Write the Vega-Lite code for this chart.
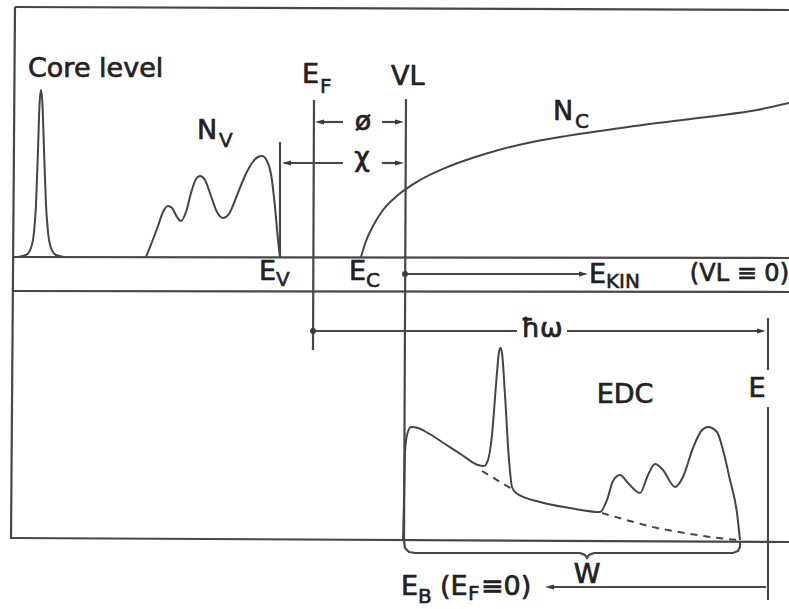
{
  "$schema": "https://vega.github.io/schema/vega-lite/v6.json",
  "width": 789,
  "height": 609,
  "padding": 0,
  "autosize": {"type": "none"},
  "background": "white",
  "config": {"view": {"stroke": null}},
  "datasets": {
    "straight": [
      {"s": "top", "i": 0, "x": 15, "y": 7}, {"s": "top", "i": 1, "x": 789, "y": 10},
      {"s": "left", "i": 0, "x": 15, "y": 7}, {"s": "left", "i": 1, "x": 11, "y": 539},
      {"s": "base1", "i": 0, "x": 14, "y": 257}, {"s": "base1", "i": 1, "x": 789, "y": 258},
      {"s": "base2", "i": 0, "x": 13, "y": 291}, {"s": "base2", "i": 1, "x": 789, "y": 292},
      {"s": "bottom", "i": 0, "x": 11, "y": 538}, {"s": "bottom", "i": 1, "x": 789, "y": 542},
      {"s": "ef", "i": 0, "x": 314, "y": 100}, {"s": "ef", "i": 1, "x": 313, "y": 350},
      {"s": "vl", "i": 0, "x": 406, "y": 99}, {"s": "vl", "i": 1, "x": 404, "y": 541},
      {"s": "ev", "i": 0, "x": 280, "y": 142}, {"s": "ev", "i": 1, "x": 280, "y": 257},
      {"s": "ekin", "i": 0, "x": 405, "y": 274}, {"s": "ekin", "i": 1, "x": 583, "y": 274},
      {"s": "phil", "i": 0, "x": 318, "y": 122}, {"s": "phil", "i": 1, "x": 343, "y": 122},
      {"s": "phir", "i": 0, "x": 382, "y": 122}, {"s": "phir", "i": 1, "x": 400, "y": 122},
      {"s": "chil", "i": 0, "x": 284, "y": 163}, {"s": "chil", "i": 1, "x": 343, "y": 163},
      {"s": "chir", "i": 0, "x": 382, "y": 163}, {"s": "chir", "i": 1, "x": 400, "y": 163},
      {"s": "hwl", "i": 0, "x": 313, "y": 331}, {"s": "hwl", "i": 1, "x": 517, "y": 331},
      {"s": "hwr", "i": 0, "x": 567, "y": 331}, {"s": "hwr", "i": 1, "x": 760, "y": 331},
      {"s": "etop", "i": 0, "x": 768, "y": 318}, {"s": "etop", "i": 1, "x": 768, "y": 370},
      {"s": "ebot", "i": 0, "x": 768, "y": 407}, {"s": "ebot", "i": 1, "x": 768, "y": 600},
      {"s": "eb", "i": 0, "x": 550, "y": 587}, {"s": "eb", "i": 1, "x": 766, "y": 587},
      {"s": "brace", "i": 0, "x": 404, "y": 541}, {"s": "brace", "i": 1, "x": 405, "y": 548},
      {"s": "brace", "i": 2, "x": 409, "y": 552}, {"s": "brace", "i": 3, "x": 415, "y": 553},
      {"s": "brace", "i": 4, "x": 580, "y": 553}, {"s": "brace", "i": 5, "x": 585, "y": 555},
      {"s": "brace", "i": 6, "x": 587, "y": 558}, {"s": "brace", "i": 7, "x": 589, "y": 555},
      {"s": "brace", "i": 8, "x": 594, "y": 553}, {"s": "brace", "i": 9, "x": 733, "y": 553},
      {"s": "brace", "i": 10, "x": 738, "y": 551}, {"s": "brace", "i": 11, "x": 740, "y": 547},
      {"s": "brace", "i": 12, "x": 740, "y": 541}
    ],
    "curves": [
      {"s": "core", "i": 0, "x": 18, "y": 257}, {"s": "core", "i": 1, "x": 26, "y": 255},
      {"s": "core", "i": 2, "x": 31, "y": 248}, {"s": "core", "i": 3, "x": 34, "y": 232},
      {"s": "core", "i": 4, "x": 36, "y": 205}, {"s": "core", "i": 5, "x": 38, "y": 150},
      {"s": "core", "i": 6, "x": 39.5, "y": 105}, {"s": "core", "i": 7, "x": 41, "y": 90},
      {"s": "core", "i": 8, "x": 42.5, "y": 105}, {"s": "core", "i": 9, "x": 44, "y": 150},
      {"s": "core", "i": 10, "x": 46, "y": 205}, {"s": "core", "i": 11, "x": 48, "y": 232},
      {"s": "core", "i": 12, "x": 51, "y": 248}, {"s": "core", "i": 13, "x": 56, "y": 255},
      {"s": "core", "i": 14, "x": 64, "y": 257},
      {"s": "nv", "i": 0, "x": 146, "y": 257}, {"s": "nv", "i": 1, "x": 152, "y": 242},
      {"s": "nv", "i": 2, "x": 158, "y": 226}, {"s": "nv", "i": 3, "x": 163, "y": 212},
      {"s": "nv", "i": 4, "x": 168, "y": 206}, {"s": "nv", "i": 5, "x": 172, "y": 208},
      {"s": "nv", "i": 6, "x": 177, "y": 217}, {"s": "nv", "i": 7, "x": 181, "y": 221},
      {"s": "nv", "i": 8, "x": 186, "y": 212}, {"s": "nv", "i": 9, "x": 191, "y": 193},
      {"s": "nv", "i": 10, "x": 196, "y": 179}, {"s": "nv", "i": 11, "x": 200, "y": 176},
      {"s": "nv", "i": 12, "x": 205, "y": 180}, {"s": "nv", "i": 13, "x": 211, "y": 196},
      {"s": "nv", "i": 14, "x": 217, "y": 212}, {"s": "nv", "i": 15, "x": 223, "y": 218},
      {"s": "nv", "i": 16, "x": 229, "y": 214}, {"s": "nv", "i": 17, "x": 236, "y": 198},
      {"s": "nv", "i": 18, "x": 244, "y": 178}, {"s": "nv", "i": 19, "x": 252, "y": 163},
      {"s": "nv", "i": 20, "x": 258, "y": 157}, {"s": "nv", "i": 21, "x": 262, "y": 156},
      {"s": "nv", "i": 22, "x": 267, "y": 161}, {"s": "nv", "i": 23, "x": 271, "y": 174},
      {"s": "nv", "i": 24, "x": 275, "y": 207}, {"s": "nv", "i": 25, "x": 278, "y": 240},
      {"s": "nv", "i": 26, "x": 280, "y": 257},
      {"s": "nc", "i": 0, "x": 361, "y": 257}, {"s": "nc", "i": 1, "x": 366, "y": 241},
      {"s": "nc", "i": 2, "x": 373, "y": 226}, {"s": "nc", "i": 3, "x": 383, "y": 210},
      {"s": "nc", "i": 4, "x": 398, "y": 195}, {"s": "nc", "i": 5, "x": 420, "y": 180},
      {"s": "nc", "i": 6, "x": 450, "y": 166}, {"s": "nc", "i": 7, "x": 485, "y": 154},
      {"s": "nc", "i": 8, "x": 523, "y": 144}, {"s": "nc", "i": 9, "x": 560, "y": 137},
      {"s": "nc", "i": 10, "x": 600, "y": 131}, {"s": "nc", "i": 11, "x": 657, "y": 123},
      {"s": "nc", "i": 12, "x": 715, "y": 116}, {"s": "nc", "i": 13, "x": 757, "y": 110},
      {"s": "nc", "i": 14, "x": 789, "y": 103},
      {"s": "edc", "i": 0, "x": 403, "y": 541}, {"s": "edc", "i": 1, "x": 404, "y": 500},
      {"s": "edc", "i": 2, "x": 405, "y": 452}, {"s": "edc", "i": 3, "x": 407, "y": 435},
      {"s": "edc", "i": 4, "x": 411, "y": 427}, {"s": "edc", "i": 5, "x": 418, "y": 428},
      {"s": "edc", "i": 6, "x": 428, "y": 433}, {"s": "edc", "i": 7, "x": 445, "y": 444},
      {"s": "edc", "i": 8, "x": 462, "y": 455}, {"s": "edc", "i": 9, "x": 478, "y": 465},
      {"s": "edc", "i": 10, "x": 484, "y": 466}, {"s": "edc", "i": 11, "x": 488, "y": 460},
      {"s": "edc", "i": 12, "x": 492, "y": 435}, {"s": "edc", "i": 13, "x": 496, "y": 385},
      {"s": "edc", "i": 14, "x": 499, "y": 352}, {"s": "edc", "i": 15, "x": 500.5, "y": 348},
      {"s": "edc", "i": 16, "x": 502, "y": 353}, {"s": "edc", "i": 17, "x": 505, "y": 395},
      {"s": "edc", "i": 18, "x": 509, "y": 460}, {"s": "edc", "i": 19, "x": 512, "y": 487},
      {"s": "edc", "i": 20, "x": 516, "y": 493}, {"s": "edc", "i": 21, "x": 540, "y": 502},
      {"s": "edc", "i": 22, "x": 570, "y": 508}, {"s": "edc", "i": 23, "x": 600, "y": 512},
      {"s": "edc", "i": 24, "x": 607, "y": 500}, {"s": "edc", "i": 25, "x": 613, "y": 481},
      {"s": "edc", "i": 26, "x": 620, "y": 475}, {"s": "edc", "i": 27, "x": 628, "y": 483},
      {"s": "edc", "i": 28, "x": 640, "y": 493}, {"s": "edc", "i": 29, "x": 648, "y": 475},
      {"s": "edc", "i": 30, "x": 655, "y": 464}, {"s": "edc", "i": 31, "x": 663, "y": 470},
      {"s": "edc", "i": 32, "x": 675, "y": 487}, {"s": "edc", "i": 33, "x": 683, "y": 477},
      {"s": "edc", "i": 34, "x": 693, "y": 448}, {"s": "edc", "i": 35, "x": 702, "y": 430},
      {"s": "edc", "i": 36, "x": 708, "y": 427}, {"s": "edc", "i": 37, "x": 717, "y": 432},
      {"s": "edc", "i": 38, "x": 723, "y": 450}, {"s": "edc", "i": 39, "x": 730, "y": 480},
      {"s": "edc", "i": 40, "x": 737, "y": 513}, {"s": "edc", "i": 41, "x": 740, "y": 540}
    ],
    "dashed": [
      {"s": "d1", "i": 0, "x": 482, "y": 471}, {"s": "d1", "i": 1, "x": 512, "y": 489},
      {"s": "d2", "i": 0, "x": 602, "y": 513}, {"s": "d2", "i": 1, "x": 630, "y": 521},
      {"s": "d2", "i": 2, "x": 657, "y": 528}, {"s": "d2", "i": 3, "x": 685, "y": 533},
      {"s": "d2", "i": 4, "x": 710, "y": 537}, {"s": "d2", "i": 5, "x": 738, "y": 540}
    ],
    "heads": [
      {"x": 315, "y": 122, "dir": "left"}, {"x": 404, "y": 122, "dir": "right"},
      {"x": 282, "y": 163, "dir": "left"}, {"x": 404, "y": 163, "dir": "right"},
      {"x": 588, "y": 274, "dir": "right"}, {"x": 766, "y": 331, "dir": "right"},
      {"x": 545, "y": 587, "dir": "left"}
    ],
    "dots": [
      {"x": 405, "y": 274}, {"x": 313, "y": 331}
    ],
    "mainLeft": [
      {"x": 28, "y": 77, "t": "Core level"},
      {"x": 302, "y": 83, "t": "E"},
      {"x": 391, "y": 85, "t": "VL"},
      {"x": 197, "y": 139, "t": "N"},
      {"x": 553, "y": 120, "t": "N"},
      {"x": 259, "y": 280, "t": "E"},
      {"x": 349, "y": 280, "t": "E"},
      {"x": 589, "y": 283, "t": "E"},
      {"x": 401, "y": 595, "t": "E"},
      {"x": 440, "y": 595, "t": "(E"},
      {"x": 481, "y": 595, "t": "≡0)"}
    ],
    "mainRight": [
      {"x": 789, "y": 281, "t": "(VL ≡ 0)"}
    ],
    "mainCenter": [
      {"x": 363, "y": 130, "t": "ø"},
      {"x": 362, "y": 166, "t": "χ"},
      {"x": 542, "y": 337, "t": "ħω"},
      {"x": 625, "y": 403, "t": "EDC"},
      {"x": 757, "y": 397, "t": "E"},
      {"x": 587, "y": 583, "t": "W"}
    ],
    "subs": [
      {"x": 320, "y": 93, "t": "F"},
      {"x": 219, "y": 147, "t": "V"},
      {"x": 575, "y": 128, "t": "C"},
      {"x": 276, "y": 286, "t": "V"},
      {"x": 366, "y": 287, "t": "C"},
      {"x": 606, "y": 288, "t": "KIN"},
      {"x": 418, "y": 603, "t": "B"},
      {"x": 468, "y": 600, "t": "F"}
    ]
  },
  "encoding": {
    "x": {"field": "x", "type": "quantitative", "scale": {"domain": [0, 789], "nice": false, "zero": false}, "axis": null},
    "y": {"field": "y", "type": "quantitative", "scale": {"domain": [0, 609], "nice": false, "zero": false, "reverse": true}, "axis": null}
  },
  "layer": [
    {
      "data": {"name": "straight"},
      "mark": {"type": "line", "interpolate": "linear", "strokeWidth": 2.2, "color": "#474747", "strokeCap": "butt"},
      "encoding": {
        "detail": {"field": "s", "type": "nominal"},
        "order": {"field": "i", "type": "quantitative"}
      }
    },
    {
      "data": {"name": "curves"},
      "mark": {"type": "line", "interpolate": "monotone", "strokeWidth": 2, "color": "#444444"},
      "encoding": {
        "detail": {"field": "s", "type": "nominal"},
        "order": {"field": "i", "type": "quantitative"}
      }
    },
    {
      "data": {"name": "dashed"},
      "mark": {"type": "line", "interpolate": "monotone", "strokeWidth": 2, "color": "#444444", "strokeDash": [7, 6]},
      "encoding": {
        "detail": {"field": "s", "type": "nominal"},
        "order": {"field": "i", "type": "quantitative"}
      }
    },
    {
      "data": {"name": "heads"},
      "mark": {"type": "point", "filled": true, "size": 81, "opacity": 1, "color": "#3a3a3a", "strokeWidth": 0},
      "encoding": {
        "shape": {"field": "dir", "type": "nominal", "legend": null,
          "scale": {"domain": ["left", "right"], "range": ["M0,0L2,-0.55L2,0.55Z", "M0,0L-2,-0.55L-2,0.55Z"]}}
      }
    },
    {
      "data": {"name": "dots"},
      "mark": {"type": "point", "filled": true, "shape": "circle", "size": 35, "opacity": 1, "color": "#3a3a3a"}
    },
    {
      "data": {"name": "mainLeft"},
      "mark": {"type": "text", "align": "left", "baseline": "alphabetic", "font": "DejaVu Sans", "fontSize": 27, "fill": "#222222", "stroke": "#222222", "strokeWidth": 0.7},
      "encoding": {"text": {"field": "t", "type": "nominal"}}
    },
    {
      "data": {"name": "mainRight"},
      "mark": {"type": "text", "align": "right", "baseline": "alphabetic", "font": "DejaVu Sans", "fontSize": 24, "fill": "#222222", "stroke": "#222222", "strokeWidth": 0.7},
      "encoding": {"text": {"field": "t", "type": "nominal"}}
    },
    {
      "data": {"name": "mainCenter"},
      "mark": {"type": "text", "align": "center", "baseline": "alphabetic", "font": "DejaVu Sans", "fontSize": 27, "fill": "#222222", "stroke": "#222222", "strokeWidth": 0.7},
      "encoding": {"text": {"field": "t", "type": "nominal"}}
    },
    {
      "data": {"name": "subs"},
      "mark": {"type": "text", "align": "left", "baseline": "alphabetic", "font": "DejaVu Sans", "fontSize": 20, "fill": "#222222", "stroke": "#222222", "strokeWidth": 0.6},
      "encoding": {"text": {"field": "t", "type": "nominal"}}
    }
  ]
}
